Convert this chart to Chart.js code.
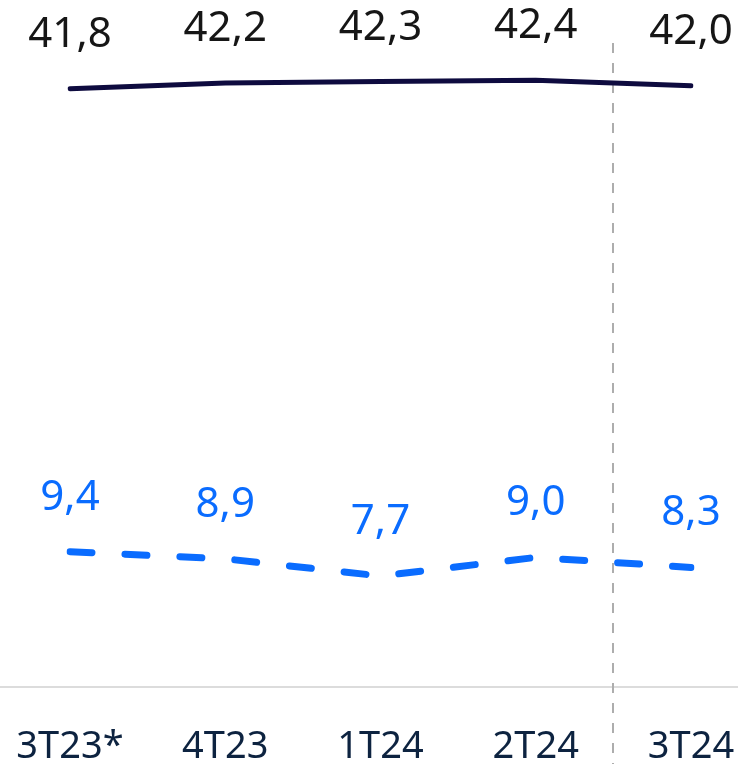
<!DOCTYPE html>
<html>
<head>
<meta charset="utf-8">
<script src="https://cdn.jsdelivr.net/npm/chart.js@4"></script>
<style>
  body { margin: 0; background: #fff; }
  #wrap { width: 738px; height: 764px; position: relative; }
</style>
</head>
<body>
<div id="wrap"><canvas id="myChart"></canvas></div>
<script>
// categories and values
var labels = ['3T23*', '4T23', '1T24', '2T24', '3T24'];
var topSeries = [41.8, 42.2, 42.3, 42.4, 42.0];
var bottomSeries = [9.4, 8.9, 7.7, 9.0, 8.3];

var navy = '#0e0b3f';
var blue = '#0a6cff';

function fmt(v){
    return v.toFixed(1).replace('.', ',');
}

// value labels above each point
var valueLabels = {
    id: 'valueLabels',
    afterDatasetsDraw: function(chart){
        var ctx = chart.ctx;
        ctx.save();
        ctx.font = '42px "Noto Sans"';
        ctx.textAlign = 'center';
        ctx.textBaseline = 'alphabetic';
        chart.data.datasets.forEach(function(ds, i){
            var meta = chart.getDatasetMeta(i);
            ctx.fillStyle = ds.labelColor;
            meta.data.forEach(function(pt, j){
                ctx.fillText(fmt(ds.data[j]), pt.x, pt.y - 42);
            });
        });
        ctx.restore();
    }
};

// gray baseline and dashed separator before last quarter
var guides = {
    id: 'guides',
    beforeDatasetsDraw: function(chart){
        var ctx = chart.ctx;
        var x = chart.scales.x;
        var y = chart.scales.y;
        ctx.save();
        ctx.strokeStyle = '#dcdcdc';
        ctx.lineWidth = 2;
        ctx.beginPath();
        ctx.moveTo(0, y.getPixelForValue(0) + 1);
        ctx.lineTo(chart.width, y.getPixelForValue(0) + 1);
        ctx.stroke();

        var sx = Math.round((x.getPixelForValue(3) + x.getPixelForValue(4)) / 2);
        ctx.strokeStyle = '#adadad';
        ctx.setLineDash([10, 10]);
        ctx.beginPath();
        ctx.moveTo(sx, 43);
        ctx.lineTo(sx, chart.height);
        ctx.stroke();
        ctx.restore();
    }
};

var ctx = document.getElementById('myChart');
var myChart = new Chart(ctx, {
    type: 'line',
    data: {
        labels: labels,
        datasets: [{
            label: 'top',
            data: topSeries,
            borderColor: navy,
            borderWidth: 5,
            labelColor: '#161616',
            pointRadius: 0,
            borderCapStyle: 'round',
            tension: 0
        },
        {
            label: 'bottom',
            data: bottomSeries,
            borderColor: blue,
            borderWidth: 7,
            labelColor: blue,
            borderDash: [22, 33],
            borderCapStyle: 'round',
            pointRadius: 0,
            tension: 0
        }]
    },
    options: {
        responsive: true,
        maintainAspectRatio: false,
        animation: false,
        layout: { padding: { left: 70, right: 47, top: 43, bottom: 0 } },
        plugins: {
            legend: { display: false },
            tooltip: { enabled: false }
        },
        scales: {
            x: {
                offset: false,
                grid: { display: false, drawTicks: false },
                border: { display: false },
                ticks: {
                    color: '#0d2340',
                    font: { family: 'Noto Sans', size: 38 },
                    padding: 38,
                    maxRotation: 0,
                    autoSkip: false
                },
                afterFit: function(scale){
                    scale.height = 78;
                    scale.paddingLeft = 0;
                    scale.paddingRight = 0;
                }
            },
            y: {
                display: false,
                min: 0,
                max: 45
            }
        }
    },
    plugins: [guides, valueLabels]
});
</script>
</body>
</html>
